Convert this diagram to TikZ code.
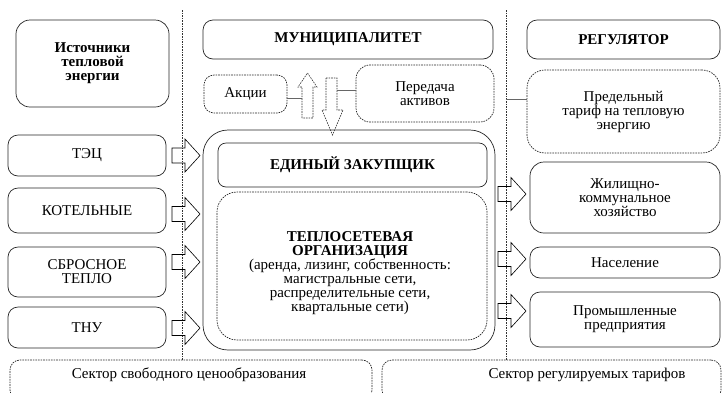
\documentclass[tikz,border=0pt]{standalone}
\usepackage{fontspec}
\setmainfont{Liberation Serif}
\usetikzlibrary{positioning}
\tikzstyle{box} = [draw=black!85, line width=0.7pt, rounded corners=10pt, align=center, inner sep=0pt]
\tikzstyle{dbox} = [box, dash pattern=on 1.6pt off 1pt]
\tikzstyle{dline} = [draw=black!80, line width=0.7pt, dash pattern=on 1.6pt off 1pt]
\tikzstyle{link} = [draw=black!60, line width=0.5pt]
\newcommand{\blockarrow}[2]{\draw[line width=0.6pt] (#1,#2-7.5) -- ++(13,0) -- ++(0,-9) -- ++(15,16.5) -- ++(-15,16.5) -- ++(0,-9) -- ++(-13,0) -- cycle;}

\begin{document}
\begin{tikzpicture}[x=1pt, y=-1pt, font=\rmfamily\fontsize{15}{14}\selectfont]
    \useasboundingbox (0,0) rectangle (722,392);

    % sector borders
    \draw [dline] (182,10) -- (182,360);
    \draw [dline] (506,10) -- (506,360);

    % sources
    \node [box, rounded corners=14pt, minimum width=153, minimum height=87] (src) at (92.5,63.5) {\textbf{Источники}\\\textbf{тепловой}\\\textbf{энергии}};
    \node [box, minimum width=158, minimum height=41] (tec) at (87,155.5) {ТЭЦ};
    \node [box, minimum width=158, minimum height=45] (kot) at (87,210.5) {КОТЕЛЬНЫЕ};
    \node [box, minimum width=158, minimum height=50] (sbr) at (87,272) {СБРОСНОЕ\\ТЕПЛО};
    \node [box, minimum width=158, minimum height=41] (tnu) at (87,327.5) {ТНУ};

    % municipality
    \node [box, minimum width=290, minimum height=39] (mun) at (348,39.5) {\textbf{МУНИЦИПАЛИТЕТ}};
    \node [dbox, minimum width=83, minimum height=38] (akc) at (245.5,94) {Акции};
    \node [dbox, rounded corners=14pt, minimum width=138, minimum height=57] (per) at (425,93.5) {Передача\\активов};

    \draw [dline, line width=0.6pt] (302,118) -- (302,87) -- (298,87) -- (307.5,73) -- (317,87) -- (313,87) -- (313,118) -- cycle;
    \draw [dline, line width=0.6pt] (326,78) -- (337,78) -- (337,110) -- (343,110) -- (332.5,135) -- (322,110) -- (326,110) -- cycle;
    \coordinate (upl) at (302,98);
    \coordinate (dnr) at (337,90);
    \draw [link] (akc.east |- upl) -- (upl);
    \draw [link] (dnr) -- (per.west |- dnr);

    % single buyer
    \node [box, rounded corners=25pt, minimum width=292, minimum height=220] (out) at (349,240) {};
    \node [box, rounded corners=8pt, minimum width=269, minimum height=44] (edz) at (352.5,165) {\textbf{ЕДИНЫЙ ЗАКУПЩИК}};
    \node [dbox, rounded corners=20pt, minimum width=270, minimum height=148] (tso) at (352,266) {};
    \node [align=center] (tsot) at (350,273) {\textbf{ТЕПЛОСЕТЕВАЯ}\\\textbf{ОРГАНИЗАЦИЯ}\\(аренда, лизинг, собственность:\\магистральные сети,\\распределительные сети,\\квартальные сети)};

    % regulator
    \node [box, minimum width=193, minimum height=39] (reg) at (623.5,39.5) {\textbf{РЕГУЛЯТОР}};
    \node [dbox, rounded corners=18pt, minimum width=193, minimum height=83] (pre) at (623.5,111.5) {Предельный\\тариф на тепловую\\энергию};
    \coordinate (rl) at (506,99);
    \draw [link] (rl) -- (pre.west |- rl);

    % consumers
    \node [box, rounded corners=14pt, minimum width=190, minimum height=71] (zhk) at (625,197.5) {Жилищно-\\коммунальное\\хозяйство};
    \node [box, minimum width=190, minimum height=31] (nas) at (625,262.5) {Население};
    \node [box, minimum width=190, minimum height=55] (prom) at (625,319.5) {Промышленные\\предприятия};

    % arrows
    \blockarrow{172}{155.5}
    \blockarrow{172}{214}
    \blockarrow{172}{262}
    \blockarrow{172}{328}
    \blockarrow{498}{194}
    \blockarrow{498}{259}
    \blockarrow{498}{311}

    % sectors
    \node [dbox, minimum width=362, minimum height=40] (sec1) at (191,380) {};
    \node [dbox, minimum width=339, minimum height=40] (sec2) at (551.5,380) {};
    \node (sec1t) at (189,375) {Сектор свободного ценообразования};
    \node (sec2t) at (587,375) {Сектор регулируемых тарифов};
\end{tikzpicture}
\end{document}
